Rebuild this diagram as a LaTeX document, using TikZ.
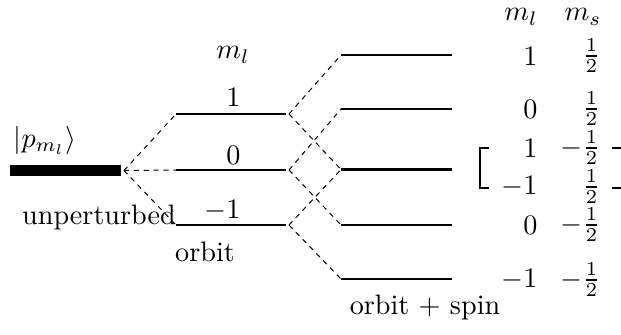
\documentclass[tikz,border=0pt]{standalone}
\begin{document}
\begin{tikzpicture}[x=0.355pt,y=-0.355pt,
  dashconn/.style={dash pattern=on 1.8pt off 1.7pt, line width=0.35pt},
  barlevel/.style={line width=3.8pt},
  orbitlevel/.style={line width=0.75pt},
  spinlevel/.style={line width=0.4pt},
  midlevel/.style={line width=0.8pt},
  lbl/.style={inner sep=0pt},
  bracket/.style={line width=0.4pt}]
\useasboundingbox (0,0) rectangle (621,334);
\clip (0,0) rectangle (621,334);
% unperturbed
\coordinate (bl) at (10,170.5);
\coordinate (br) at (121,170.5);
\coordinate (bc) at (124,170.5);
\draw[barlevel] (bl) -- (br);
\node[lbl] (ket) at (45,140.5) {$|p_{m_l}\rangle$};
\node[lbl] (unp) at (99,217) {unperturbed};
% orbit levels
\foreach \n/\y in {a/114,b/170,c/225}{
  \coordinate (o\n l) at (176,\y);
  \coordinate (o\n r) at (286,\y);
  \coordinate (o\n c) at (289,\y);
  \draw[orbitlevel] (o\n l) -- (o\n r);
}
\node[lbl,anchor=east] (la) at (241,97.5) {$1$};
\node[lbl,anchor=east] (lb) at (241,155) {$0$};
\node[lbl,anchor=east] (lc) at (241,211) {$-1$};
\node[lbl] (mlh) at (233,55) {$m_l$};
\node[lbl] (orb) at (205,252) {orbit};
% orbit + spin levels
\foreach \n/\y in {1/55,2/109,4/225,5/279}{
  \coordinate (s\n l) at (341,\y);
  \coordinate (s\n r) at (452,\y);
  \draw[spinlevel] (s\n l) -- (s\n r);
}
\coordinate (s3l) at (341,169.5);
\coordinate (s3r) at (452,169.5);
\draw[midlevel] (s3l) -- (s3r);
\node[lbl] (os) at (425,307) {orbit $+$ spin};
% connectors
\draw[dashconn] (bc) -- (oal);
\draw[dashconn] (bc) -- (obl);
\draw[dashconn] (bc) -- (ocl);
\draw[dashconn] (oac) -- (s1l);
\draw[dashconn] (oac) -- (s3l);
\draw[dashconn] (obc) -- (s2l);
\draw[dashconn] (obc) -- (s4l);
\draw[dashconn] (occ) -- (s3l);
\draw[dashconn] (occ) -- (s5l);
% table
\node[lbl] (hml) at (521,17) {$m_l$};
\node[lbl] (hms) at (583,17) {$m_s$};
\foreach \i/\y/\ml/\ms in {1/56/1/\frac{1}{2},2/109/0/\frac{1}{2},3/148/1/-\frac{1}{2},4/187/-1/\frac{1}{2},5/225/0/-\frac{1}{2},6/280/-1/-\frac{1}{2}}{
  \node[lbl,anchor=east] (ml\i) at (538,\y) {$\ml$};
  \node[lbl,anchor=east] (ms\i) at (601,\y) {$\ms$};
}
\coordinate (lbt) at (489,148);
\coordinate (lbtc) at (480,148);
\coordinate (lbbc) at (480,188);
\coordinate (lbb) at (489,188);
\draw[bracket] (lbt) -- (lbtc) -- (lbbc) -- (lbb);
\coordinate (rbt) at (612,148);
\coordinate (rbtc) at (623,148);
\coordinate (rbbc) at (623,188);
\coordinate (rbb) at (612,188);
\draw[bracket] (rbt) -- (rbtc) -- (rbbc) -- (rbb);
\end{tikzpicture}
\end{document}
